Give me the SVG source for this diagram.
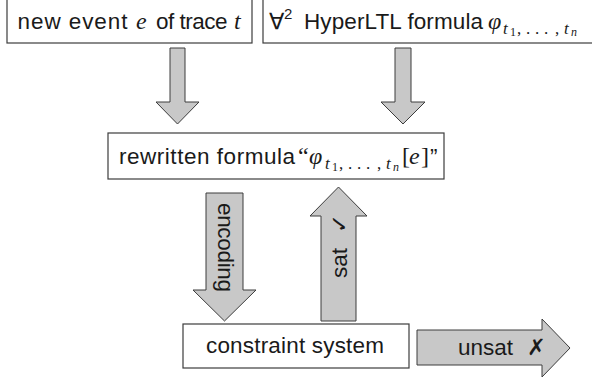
<svg xmlns="http://www.w3.org/2000/svg" width="592" height="382" viewBox="0 0 592 382">
  <style>
    .box { fill: #ffffff; stroke: #3c3c3c; stroke-width: 1.2; }
    .arrow { fill: #c8c8c8; stroke: #3c3c3c; stroke-width: 1; stroke-linejoin: miter; }
    .lbl { font-family: "Liberation Sans", Arial, sans-serif; font-size: 22.5px; fill: #1a1a1a; }
    .m { font-family: "Liberation Serif", "DejaVu Serif", serif; font-style: italic; font-size: 24px; }
    .mr { font-family: "Liberation Serif", "DejaVu Serif", serif; font-style: normal; font-size: 24px; }
    .sub { font-size: 17px; }
    .subsub { font-size: 12px; }
    .sym { font-family: "DejaVu Sans", sans-serif; }
  </style>
  <rect width="592" height="382" fill="#ffffff"/>

  <!-- connectors: block arrows between the stages -->
  <g id="connectors">
    <path id="arrow-event" class="arrow" d="M170,48 H185 V102 H199 L177.5,124 L156,102 H170 Z"/>
    <path id="arrow-formula" class="arrow" d="M395,48 H411 V102 H425 L403,124 L381,102 H395 Z"/>
    <path id="arrow-encoding" class="arrow" d="M206,193 H243 V290 H256 L224.5,321 L193,290 H206 Z"/>
    <path id="arrow-sat" class="arrow" d="M321,321 H356 V216 H367 L338.5,187 L310,216 H321 Z"/>
    <path id="arrow-unsat" class="arrow" d="M417,330 H542 V319 L570,348 L542,377 V365 H417 Z"/>
    <text class="lbl" transform="translate(218,203) rotate(90)" textLength="89" lengthAdjust="spacing">encoding</text>
    <text class="lbl" transform="translate(347,278) rotate(-90)"><tspan textLength="30" lengthAdjust="spacing">sat</tspan><tspan class="sym" font-weight="bold" x="45">✓</tspan></text>
    <text class="lbl" x="458" y="355"><tspan textLength="55" lengthAdjust="spacing">unsat</tspan><tspan class="sym" font-weight="bold" x="527">✗</tspan></text>
  </g>

  <g id="node-event">
    <rect class="box" x="7" y="-1" width="245" height="44"/>
    <text class="lbl" y="29"><tspan x="17.5" textLength="110" lengthAdjust="spacing">new event</tspan><tspan class="m" x="136">e</tspan><tspan x="156" textLength="71.5" lengthAdjust="spacing">of trace</tspan><tspan class="m" x="234">t</tspan></text>
  </g>

  <g id="node-formula">
    <rect class="box" x="263" y="-1" width="340" height="44"/>
    <text class="lbl" y="29"><tspan class="sym" font-family="DejaVu Serif, serif" x="269">∀</tspan><tspan font-size="15" x="284" dy="-10">2</tspan><tspan x="304" dy="10" textLength="179" lengthAdjust="spacing">HyperLTL formula</tspan><tspan class="m" x="488">φ</tspan><tspan class="m sub" x="503" dy="5">t</tspan><tspan class="mr subsub" x="510" dy="2">1</tspan><tspan class="mr sub" x="517" dy="-2">,</tspan><tspan class="mr sub" x="526">.</tspan><tspan class="mr sub" x="535">.</tspan><tspan class="mr sub" x="544">.</tspan><tspan class="mr sub" x="555">,</tspan><tspan class="m sub" x="564">t</tspan><tspan class="m subsub" x="571" dy="2">n</tspan></text>
  </g>

  <g id="node-rewritten">
    <rect class="box" x="108" y="133" width="336" height="46"/>
    <text class="lbl" y="164"><tspan x="119" textLength="176" lengthAdjust="spacing">rewritten formula</tspan><tspan class="mr" x="298">“</tspan><tspan class="m" x="309">φ</tspan><tspan class="m sub" x="325" dy="5">t</tspan><tspan class="mr subsub" x="332" dy="2">1</tspan><tspan class="mr sub" x="339" dy="-2">,</tspan><tspan class="mr sub" x="348">.</tspan><tspan class="mr sub" x="357">.</tspan><tspan class="mr sub" x="366">.</tspan><tspan class="mr sub" x="377">,</tspan><tspan class="m sub" x="386">t</tspan><tspan class="m subsub" x="393" dy="2">n</tspan><tspan class="mr" x="402" dy="-7">[</tspan><tspan class="m" x="409">e</tspan><tspan class="mr" x="421">]</tspan><tspan x="430">”</tspan></text>
  </g>

  <g id="node-constraints">
    <rect class="box" x="183" y="324" width="226" height="44"/>
    <text class="lbl" x="206" y="353" textLength="178" lengthAdjust="spacing">constraint system</text>
  </g>
</svg>
